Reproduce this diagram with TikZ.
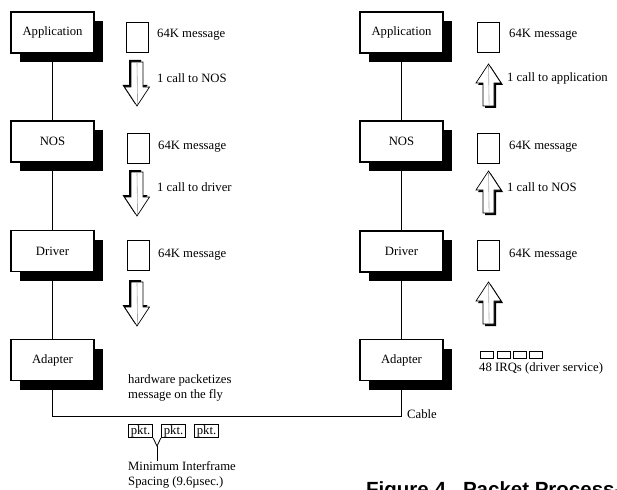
\documentclass[tikz,border=0pt]{standalone}
\usepackage{fontspec}
\setmainfont{Liberation Serif}
\newfontfamily\capfont{Liberation Sans}
\usetikzlibrary{shadows}
\tikzset{
  lbl/.style={font=\fontsize{12.7}{15}\selectfont, inner sep=0pt},
  layerbox/.style={draw, line width=1.1pt, fill=white, minimum width=83pt,
    minimum height=41pt, inner sep=0pt, font=\fontsize{12.7}{15}\selectfont,
    drop shadow={shadow xshift=9pt, shadow yshift=-9pt, opacity=1, fill=black}},
  msgbox/.style={draw, line width=0.9pt, minimum width=22pt, minimum height=30pt, inner sep=0pt},
  pktbox/.style={draw, line width=0.8pt, inner xsep=2.5pt, inner ysep=0.8pt,
    font=\fontsize{12.7}{15}\selectfont},
  irqbox/.style={draw, line width=0.8pt, minimum width=13pt, minimum height=7pt, inner sep=0pt},
  conn/.style={line width=1pt},
  fatdown/.pic={
    \fill[black] (-8,-2) -- (4,-2) -- (4,23) -- (10.5,23) -- (-2,42) -- (-14.5,23) -- (-8,23) -- cycle;
    \filldraw[fill=white, draw=black, line width=0.7pt] (-6,0) -- (6,0) -- (6,25) -- (12.5,25) -- (0,44) -- (-12.5,25) -- (-6,25) -- cycle;
    \draw[black!35, line width=0.6pt] (0,1) -- (0.6,42);
  },
  fatup/.pic={
    \fill[black] (2,2) -- (14.5,21) -- (7.5,21) -- (7.5,44) -- (-3.5,44) -- (-3.5,21) -- (-10.5,21) -- cycle;
    \filldraw[fill=white, draw=black, line width=0.7pt] (0,0) -- (12.5,19) -- (5.5,19) -- (5.5,42) -- (-5.5,42) -- (-5.5,19) -- (-12.5,19) -- cycle;
    \draw[black!35, line width=0.6pt] (0,2) -- (0.6,41);
  }
}
\begin{document}
\begin{tikzpicture}[x=1pt,y=-1pt]
\useasboundingbox (0,0) rectangle (617,489);
\clip (0,0) rectangle (617,489);
\fill[white] (0,0) rectangle (617,489);

% left stack
\node[layerbox] (appL) at (52.5,32.5) {Application};
\node[layerbox] (nosL) at (52.5,141.5) {NOS};
\node[layerbox] (drvL) at (52.5,251) {Driver};
\node[layerbox] (adpL) at (52.5,360) {Adapter};
% right stack
\node[layerbox] (appR) at (401.5,32.5) {Application};
\node[layerbox] (nosR) at (401.5,141.5) {NOS};
\node[layerbox] (drvR) at (401.5,251.5) {Driver};
\node[layerbox] (adpR) at (401.5,360) {Adapter};

% connectors
\draw[conn] (appL.south) -- (nosL.north);
\draw[conn] (nosL.south) -- (drvL.north);
\draw[conn] (drvL.south) -- (adpL.north);
\draw[conn] (appR.south) -- (nosR.north);
\draw[conn] (nosR.south) -- (drvR.north);
\draw[conn] (drvR.south) -- (adpR.north);
\coordinate (cab) at (0,416);
\draw[conn] (adpL.south) -- (adpL.south |- cab) -- (adpR.south |- cab) -- (adpR.south);
\node[lbl, anchor=west] (cable) at (407,414) {Cable};

% left messages
\node[msgbox] (m1L) at (137,37) {};
\node[msgbox] (m2L) at (138,148) {};
\node[msgbox] (m3L) at (138,255.5) {};
\node[lbl, anchor=west] (t1L) at (157,35) {64K message};
\node[lbl, anchor=west] (t2L) at (158,147) {64K message};
\node[lbl, anchor=west] (t3L) at (158,255) {64K message};
\pic at (137,62) {fatdown};
\pic at (137,172) {fatdown};
\pic at (137,282) {fatdown};
\node[lbl, anchor=west] (c1L) at (157,78) {1 call to NOS};
\node[lbl, anchor=west] (c2L) at (157,187) {1 call to driver};

% right messages
\node[msgbox] (m1R) at (488.5,37) {};
\node[msgbox] (m2R) at (488,148) {};
\node[msgbox] (m3R) at (488,255.5) {};
\node[lbl, anchor=west] (t1R) at (509,35) {64K message};
\node[lbl, anchor=west] (t2R) at (509,147) {64K message};
\node[lbl, anchor=west] (t3R) at (509,255) {64K message};
\pic at (488.5,64) {fatup};
\pic at (488.5,171) {fatup};
\pic at (488.5,282) {fatup};
\node[lbl, anchor=west] (c1R) at (507,78) {1 call to application};
\node[lbl, anchor=west] (c2R) at (507,187) {1 call to NOS};

% IRQs
\node[irqbox] (q1) at (486.5,354.5) {};
\node[irqbox] (q2) at (503.5,354.5) {};
\node[irqbox] (q3) at (519.5,354.5) {};
\node[irqbox] (q4) at (535.5,354.5) {};
\node[lbl, anchor=west] (irq) at (479,368) {48 IRQs (driver service)};

% hardware text
\node[lbl, anchor=north west, align=left] (hw) at (128,374) {hardware packetizes\\message on the fly};

% packets
\node[pktbox] (p1) at (140.5,431) {pkt.};
\node[pktbox] (p2) at (173.5,431) {pkt.};
\node[pktbox] (p3) at (206.5,431) {pkt.};
\coordinate (yj) at (157,446);
\node[lbl, anchor=north west, align=left] (mis) at (128,461) {Minimum Interframe\\Spacing (9.6µsec.)};
\draw[line width=0.8pt] (p1.south east) -- (yj) -- (p2.south west);
\draw[line width=0.8pt] (yj) -- (yj |- mis.north);

% caption (cut off)
\node[anchor=base west, inner sep=0pt, font=\capfont\bfseries\fontsize{20.5}{24}\selectfont] (cap) at (366,496) {Figure 4.\ \ Packet Process-};
\end{tikzpicture}
\end{document}
